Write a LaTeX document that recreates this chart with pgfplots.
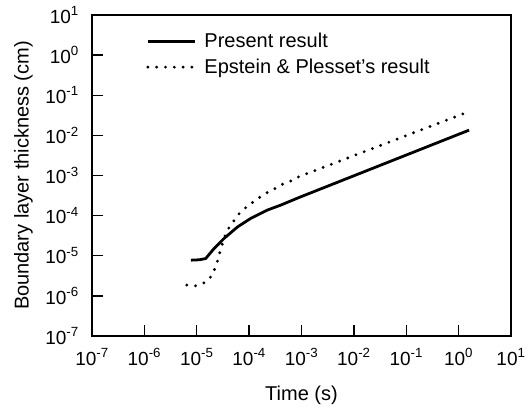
\documentclass[border=0pt]{standalone}
\usepackage{pgfplots}
\pgfplotsset{compat=1.18}
\usepackage{fontspec}
\setmainfont{Liberation Sans}

\begin{document}
\begin{tikzpicture}
\useasboundingbox (-92bp,-71bp) rectangle (440bp,336bp);
\begin{axis}[
name=ax,
at={(0,0)}, anchor=south west,
scale only axis,
width=419bp, height=321bp,
xmode=log, ymode=log,
xmin=1e-7, xmax=1e1,
ymin=1e-7, ymax=1e1,
axis line style={line width=1.6pt},
tick align=inside,
tick pos=left,
major tick length=11bp,
tick style={line width=1.5pt, black},
minor tick style={draw=none},
xtick={1e-7,1e-6,1e-5,1e-4,1e-3,1e-2,1e-1,1e0,1e1},
xticklabels={10\textsuperscript{-7},10\textsuperscript{-6},10\textsuperscript{-5},10\textsuperscript{-4},10\textsuperscript{-3},10\textsuperscript{-2},10\textsuperscript{-1},10\textsuperscript{0},10\textsuperscript{1}},
ytick={1e-7,1e-6,1e-5,1e-4,1e-3,1e-2,1e-1,1e0,1e1},
yticklabels={10\textsuperscript{-7},10\textsuperscript{-6},10\textsuperscript{-5},10\textsuperscript{-4},10\textsuperscript{-3},10\textsuperscript{-2},10\textsuperscript{-1},10\textsuperscript{0},10\textsuperscript{1}},
ticklabel style={font=\fontsize{19bp}{21bp}\selectfont, inner sep=0pt},
xticklabel style={anchor=base, yshift=-29bp},
yticklabel style={anchor=east, xshift=-13bp},
label style={font=\fontsize{20bp}{22bp}\selectfont, inner sep=0pt},
xlabel={Time (s)},
ylabel={Boundary layer thickness (cm)},
xlabel style={at={(axis description cs:0.5,0)}, anchor=base, yshift=-64bp},
ylabel style={at={(axis description cs:0,0.5)}, anchor=south, yshift=59bp},
legend style={draw=none, fill=none, at={(axis description cs:0.122,1)}, anchor=north west,
  yshift=-14bp, font=\fontsize{20bp}{22bp}\selectfont, row sep=6bp},
legend cell align=left,
legend image code/.code={\draw[#1] (0bp,0bp) -- (47bp,0bp); \path (53bp,0bp);},
]
\addplot [black, line width=2.8pt] table {%
7.76e-6 7.76e-6
1.12e-5 7.94e-6
1.48e-5 8.51e-6
2.14e-5 1.51e-5
3.31e-5 2.69e-5
6.03e-5 5.25e-5
1.07e-4 8.51e-5
2.24e-4 1.38e-4
3.98e-4 1.82e-4
8.91e-4 2.82e-4
1.585 1.35e-2
};
\addlegendentry{Present result}
\addplot [black, line width=3.2pt, line cap=round, dash pattern=on 0pt off 8.8bp] table {%
6.46e-6 1.86e-6
9.55e-6 1.78e-6
1.41e-5 2.14e-6
1.95e-5 3.16e-6
2.29e-5 5.25e-6
2.57e-5 8.51e-6
2.88e-5 1.51e-5
3.72e-5 4.07e-5
4.79e-5 6.61e-5
6.46e-5 1.12e-4
9.33e-5 1.74e-4
1.38e-4 2.51e-4
1.91e-4 3.39e-4
2.88e-4 4.47e-4
4.27e-4 6.03e-4
6.17e-4 7.24e-4
8.91e-4 9.33e-4
1.55 3.89e-2
};
\addlegendentry{Epstein \& Plesset's result}
\end{axis}
\end{tikzpicture}
\end{document}
